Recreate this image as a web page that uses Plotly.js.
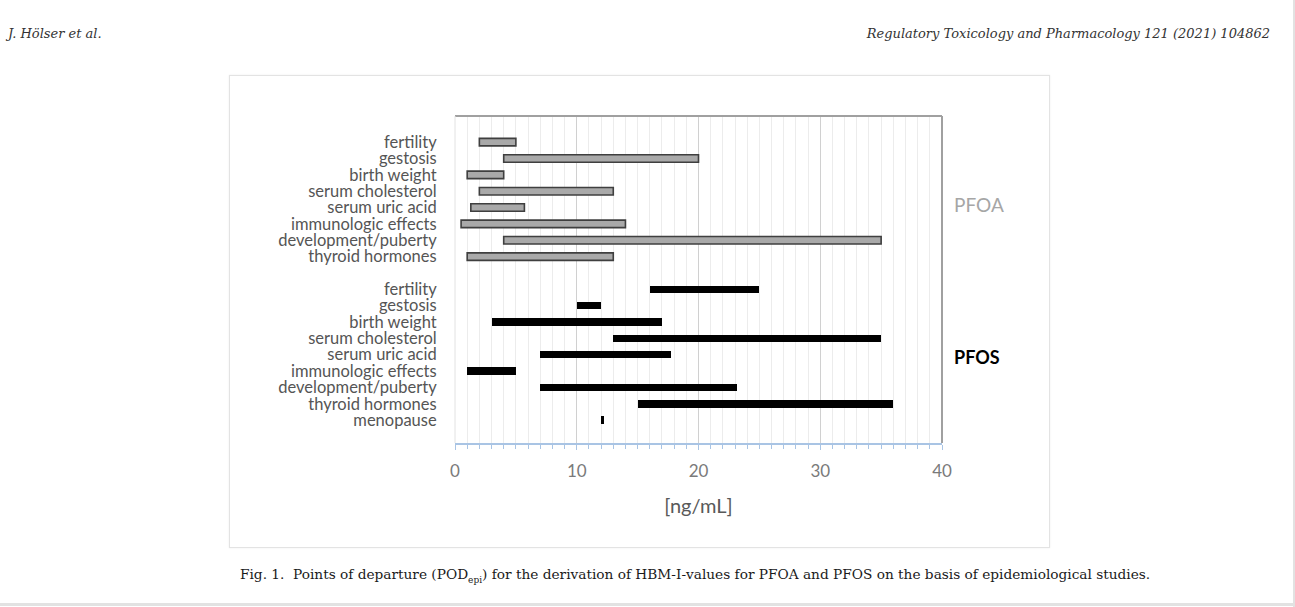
<!DOCTYPE html>
<html>
<head>
<meta charset="utf-8">
<script src="https://cdn.plot.ly/plotly-3.0.1.min.js"></script>
<style>
  html, body { margin:0; padding:0; background:#fff; }
  #page { position:relative; width:1295px; height:607px; overflow:hidden; background:#fff; }
  #box { position:absolute; left:229px; top:75px; width:819px; height:471px; border:1px solid #e3e3e3; box-shadow:0 0 2px #eee; }
  #chart { position:absolute; left:0; top:0; width:1295px; height:607px; }
  .hdr { position:absolute; top:26px; font-family:"DejaVu Serif", serif; font-style:italic; font-size:13px; color:#333; white-space:nowrap; }
  #cap { position:absolute; left:240px; top:566px; font-family:"DejaVu Serif", serif; font-size:13.7px; color:#1a1a1a; white-space:nowrap; }
  #rline { position:absolute; left:1293px; top:0; width:2px; height:607px; background:#e2e2e2; }
  #bline { position:absolute; left:0; top:603px; width:1295px; height:3px; background:#e2e2e2; }
</style>
</head>
<body>
<div id="page">
  <div class="hdr" style="left:8px;">J. Hölser et al.</div>
  <div class="hdr" style="right:25px;">Regulatory Toxicology and Pharmacology 121 (2021) 104862</div>
  <div id="box"></div>
  <div id="chart"></div>
  <div id="cap">Fig. 1.&nbsp; Points of departure (POD<sub style="font-size:9px;">epi</sub>) for the derivation of HBM-I-values for PFOA and PFOS on the basis of epidemiological studies.</div>
  <div id="rline"></div>
  <div id="bline"></div>
</div>
<script>
// ---- data (ng/mL) ----
var pfoaLabels = ["fertility", "gestosis", "birth weight", "serum cholesterol", "serum uric acid", "immunologic effects", "development/puberty", "thyroid hormones"];
var pfoaStart  = [2, 4, 1, 2, 1.3, 0.5, 4, 1];
var pfoaEnd    = [5, 20, 4, 13, 5.7, 14, 35, 13];

var pfosLabels = ["fertility", "gestosis", "birth weight", "serum cholesterol", "serum uric acid", "immunologic effects", "development/puberty", "thyroid hormones", "menopause"];
var pfosStart  = [16, 10, 3, 13, 7, 1, 7, 15, 12];
var pfosEnd    = [25, 12, 17, 35, 17.7, 5, 23.2, 36, 12.25];

var xTicks = [0, 10, 20, 30, 40];

// ---- row positions (PFOA rows, one blank row, then PFOS rows) ----
var pfoaRows = pfoaLabels.map(function (_, i) { return i; });
var pfosRows = pfosLabels.map(function (_, i) { return pfoaLabels.length + 1 + i; });

var traces = [
  {
    type: 'bar', orientation: 'h', name: 'PFOA',
    y: pfoaRows,
    base: pfoaStart,
    x: pfoaEnd.map(function (e, i) { return e - pfoaStart[i]; }),
    width: 0.46,
    marker: { color: '#a9a9a9', line: { color: '#3f3f3f', width: 1.6 } },
    hoverinfo: 'skip'
  },
  {
    type: 'bar', orientation: 'h', name: 'PFOS',
    y: pfosRows,
    base: pfosStart,
    x: pfosEnd.map(function (e, i) { return e - pfosStart[i]; }),
    width: 0.46,
    marker: { color: '#000000', line: { width: 0 } },
    hoverinfo: 'skip'
  }
];

var layout = {
  width: 1295, height: 607,
  margin: { l: 455, r: 353, t: 116, b: 164, pad: 0 },
  paper_bgcolor: 'rgba(0,0,0,0)',
  plot_bgcolor: '#ffffff',
  showlegend: false,
  bargap: 0,
  xaxis: {
    range: [0, 40],
    tickvals: xTicks,
    ticktext: xTicks.map(String),
    showgrid: true, gridcolor: '#d0d0d0', gridwidth: 1,
    minor: { dtick: 1, showgrid: true, gridcolor: '#ececec', gridwidth: 1, ticks: 'outside', ticklen: 4, tickcolor: '#a9c4e4', tickwidth: 1 },
    ticks: 'outside', ticklen: 5, tickcolor: '#a9c4e4', tickwidth: 1,
    ticklabelstandoff: 7,
    showline: true, linecolor: '#a9c4e4', linewidth: 1.5,
    zeroline: false,
    tickfont: { family: 'Lato, "Open Sans", sans-serif', size: 17, color: '#7a7a7a' },
    title: { text: '[ng/mL]', standoff: 19, font: { family: 'Lato, "Open Sans", sans-serif', size: 20, color: '#595959' } },
    automargin: false,
    fixedrange: true
  },
  yaxis: {
    range: [pfoaLabels.length + pfosLabels.length + 1.4, -1.6],
    tickvals: pfoaRows.concat(pfosRows),
    ticktext: pfoaLabels.concat(pfosLabels),
    ticks: 'outside', ticklen: 14, tickcolor: 'rgba(0,0,0,0)',
    showgrid: false, zeroline: false, showline: false,
    tickfont: { family: 'Lato, "Open Sans", sans-serif', size: 16.5, color: '#555555' },
    automargin: false,
    fixedrange: true
  },
  shapes: [
    { type: 'line', xref: 'paper', yref: 'paper', x0: 0, x1: 1, y0: 1, y1: 1, line: { color: '#a0a0a0', width: 2 } },
    { type: 'line', xref: 'paper', yref: 'paper', x0: 1, x1: 1, y0: 0, y1: 1, line: { color: '#a0a0a0', width: 2 } },
    { type: 'line', xref: 'paper', yref: 'paper', x0: 0, x1: 0, y0: 0, y1: 1, line: { color: '#e2e2e2', width: 1 } }
  ],
  annotations: [
    { text: 'PFOA', xref: 'paper', yref: 'paper', x: 1.02, y: (443 - 204) / 327, xanchor: 'left', yanchor: 'middle', showarrow: false,
      font: { family: 'Lato, "Open Sans", sans-serif', size: 19, color: '#a6a6a6' } },
    { text: '<b>PFOS</b>', xref: 'paper', yref: 'paper', x: 1.02, y: (443 - 357) / 327, xanchor: 'left', yanchor: 'middle', showarrow: false,
      font: { family: 'Lato, "Open Sans", sans-serif', size: 18, color: '#000000' } }
  ]
};

Plotly.newPlot('chart', traces, layout, { staticPlot: true, displayModeBar: false });
</script>
</body>
</html>
